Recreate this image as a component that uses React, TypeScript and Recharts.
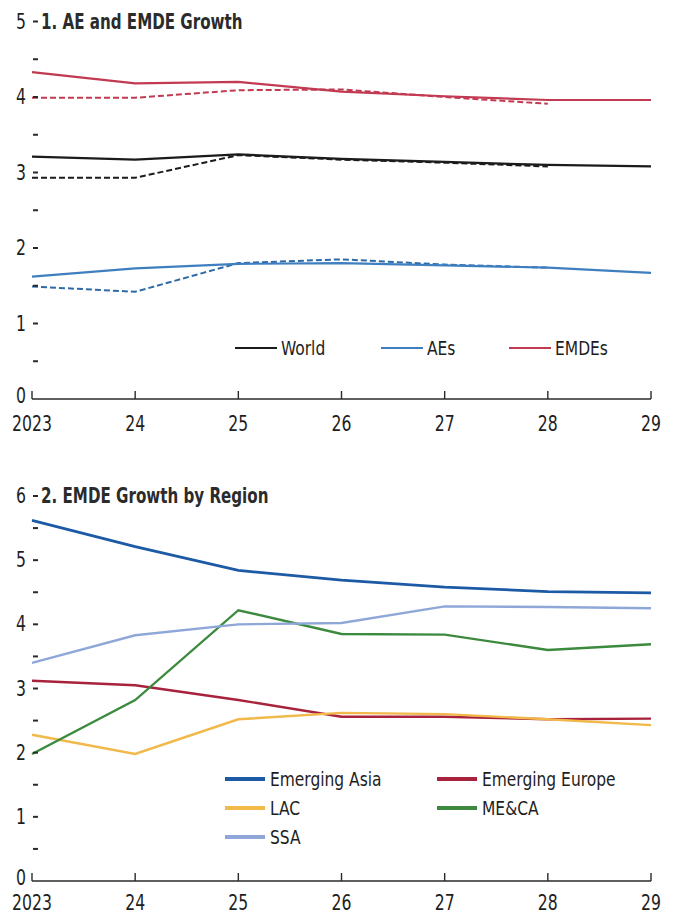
import React from 'react';
import { LineChart, Line, XAxis, YAxis, Legend } from 'recharts';

const FONT = "'Liberation Sans Narrow', 'Arial Narrow', 'DejaVu Sans Condensed', sans-serif";
const INK = '#2a2a2a';
const SX = 0.83; // horizontal squeeze to imitate a condensed face

// ---------- data ----------
const years = [2023, 2024, 2025, 2026, 2027, 2028, 2029];
const yearLabels = ['2023', '24', '25', '26', '27', '28', '29'];

// Panel 1: current (solid) and previous (dashed) forecasts
const worldCurrent = [3.21, 3.17, 3.24, 3.18, 3.14, 3.1, 3.08];
const worldPrevious = [2.93, 2.93, 3.23, 3.17, 3.13, 3.08, null];
const aesCurrent = [1.62, 1.73, 1.79, 1.8, 1.77, 1.74, 1.67];
const aesPrevious = [1.49, 1.42, 1.8, 1.85, 1.78, 1.74, null];
const emdesCurrent = [4.33, 4.18, 4.2, 4.07, 4.01, 3.96, 3.96];
const emdesPrevious = [3.99, 3.99, 4.09, 4.1, 4.0, 3.91, null];

// Panel 2: EMDE growth by region
const emergingAsia = [5.62, 5.21, 4.84, 4.69, 4.58, 4.51, 4.49];
const emergingEurope = [3.12, 3.05, 2.82, 2.56, 2.56, 2.52, 2.53];
const lac = [2.28, 1.98, 2.52, 2.62, 2.6, 2.52, 2.43];
const meca = [1.98, 2.82, 4.22, 3.85, 3.84, 3.6, 3.69];
const ssa = [3.4, 3.83, 4.0, 4.02, 4.28, 4.27, 4.25];

const topTicks = [0, 0.5, 1, 1.5, 2, 2.5, 3, 3.5, 4, 4.5, 5];
const bottomTicks = [0, 0.5, 1, 1.5, 2, 2.5, 3, 3.5, 4, 4.5, 5, 5.5, 6];

const topLegendOrder = ['World', 'AEs', 'EMDEs'];
const bottomLegendOrder = ['Emerging Asia', 'Emerging Europe', 'LAC', 'ME&CA', 'SSA'];

const topTitle = '1. AE and EMDE Growth';
const bottomTitle = '2. EMDE Growth by Region';

const topData = years.map((year, i) => ({
  year,
  worldCur: worldCurrent[i],
  worldPrev: worldPrevious[i],
  aesCur: aesCurrent[i],
  aesPrev: aesPrevious[i],
  emdesCur: emdesCurrent[i],
  emdesPrev: emdesPrevious[i],
}));

const bottomData = years.map((year, i) => ({
  year,
  asia: emergingAsia[i],
  europe: emergingEurope[i],
  lac: lac[i],
  meca: meca[i],
  ssa: ssa[i],
}));

const C_WORLD = '#1b1b1b';
const C_AES = '#3f7fc0';
const C_AES_PREV = '#2f6aa8';
const C_EMDES = '#c23a52';
const C_ASIA = '#1d5aa5';
const C_EUROPE = '#a8213d';
const C_LAC = '#f1b84a';
const C_MECA = '#3c8a3e';
const C_SSA = '#8fa7d8';

// ---------- ticks ----------
const CondText = ({ x, y, anchor, children }: any) => (
  <text
    transform={`translate(${x},${y}) scale(${SX},1)`}
    x={0}
    y={0}
    textAnchor={anchor}
    dominantBaseline="central"
    fontFamily={FONT}
    fontSize={21}
    fill="#1e1e1e"
  >
    {children}
  </text>
);

const XTick = (props: any) => {
  const { x, y, payload, labelOffset } = props;
  const i = years.indexOf(payload.value);
  return (
    <g>
      <line x1={x} x2={x} y1={y} y2={y - 8} stroke={INK} strokeWidth={1.4} />
      <CondText x={x} y={y + labelOffset} anchor="middle">
        {yearLabels[i]}
      </CondText>
    </g>
  );
};

const LeftTick = (props: any) => {
  const { x, y, payload } = props;
  const v = payload.value;
  const major = Number.isInteger(v);
  return (
    <g>
      {v !== 0 && <line x1={x + 1} x2={x + 6} y1={y} y2={y} stroke={INK} strokeWidth={2} />}
      {major && (
        <CondText x={x - 6} y={v === 0 ? y - 3 : y} anchor="end">
          {v}
        </CondText>
      )}
    </g>
  );
};

const RightTick = (props: any) => {
  const { x, y, payload } = props;
  if (payload.value === 0) return <g />;
  return <line x1={x - 9} x2={x - 1} y1={y} y2={y} stroke={INK} strokeWidth={2} />;
};

// ---------- legends ----------
const squeezed: React.CSSProperties = {
  display: 'inline-block',
  transform: 'scaleX(0.86)',
  transformOrigin: 'left center',
};

const ordered = (payload: any[], order: string[]) =>
  order
    .map((name) => (payload || []).find((p: any) => p.value === name))
    .filter(Boolean);

const TopLegend = (props: any) => {
  const items = ordered(props.payload, topLegendOrder);
  return (
    <div
      style={{
        display: 'grid',
        gridTemplateColumns: '146px 128px 120px',
        fontFamily: FONT,
        fontSize: 20,
        color: '#1e1e1e',
        whiteSpace: 'nowrap',
      }}
    >
      {items.map((p: any, i: number) => (
        <div key={i} style={{ display: 'flex', alignItems: 'center', height: 24 }}>
          <span style={{ display: 'inline-block', width: 42, height: 2, background: p.color, marginRight: 4 }} />
          <span style={squeezed}>{p.value}</span>
        </div>
      ))}
    </div>
  );
};

const BottomLegend = (props: any) => {
  const items = ordered(props.payload, bottomLegendOrder);
  return (
    <div
      style={{
        display: 'grid',
        gridTemplateColumns: '212px 200px',
        gridAutoRows: '29px',
        fontFamily: FONT,
        fontSize: 20,
        color: '#1e1e1e',
        whiteSpace: 'nowrap',
      }}
    >
      {items.map((p: any, i: number) => (
        <div key={i} style={{ display: 'flex', alignItems: 'center' }}>
          <span style={{ display: 'inline-block', width: 40, height: 4, background: p.color, marginRight: 5 }} />
          <span style={squeezed}>{p.value}</span>
        </div>
      ))}
    </div>
  );
};

const titleStyle = (top: number): React.CSSProperties => ({
  position: 'absolute',
  left: 41,
  top,
  height: 26,
  lineHeight: '26px',
  fontFamily: FONT,
  fontWeight: 'bold',
  fontSize: 21,
  color: '#2b2b2b',
  whiteSpace: 'nowrap',
  transform: 'scaleX(0.8)',
  transformOrigin: 'left center',
});

export default function App() {
  return (
    <div style={{ position: 'absolute', left: 0, top: 0, width: 674, height: 917, background: '#fff', overflow: 'hidden' }}>
      {/* Panel 1 */}
      <div style={{ position: 'absolute', left: 0, top: 0 }}>
        <LineChart width={674} height={440} data={topData} margin={{ top: 21.5, right: 22, left: 0, bottom: 0 }}>
          <XAxis
            dataKey="year"
            type="number"
            domain={[2023, 2029]}
            ticks={years}
            interval={0}
            height={41}
            tickSize={0}
            tickMargin={0}
            tickLine={false}
            axisLine={{ stroke: INK, strokeWidth: 1.6 }}
            tick={<XTick labelOffset={25} />}
          />
          <YAxis
            yAxisId="left"
            domain={[0, 5]}
            ticks={topTicks}
            interval={0}
            width={32}
            tickSize={0}
            tickMargin={0}
            tickLine={false}
            axisLine={false}
            tick={<LeftTick />}
          />
          <YAxis
            yAxisId="right"
            orientation="right"
            domain={[0, 5]}
            ticks={topTicks}
            interval={0}
            width={1}
            tickSize={0}
            tickMargin={0}
            tickLine={false}
            axisLine={false}
            tick={<RightTick />}
          />
          <Legend
            layout="horizontal"
            verticalAlign="middle"
            align="center"
            content={<TopLegend />}
            wrapperStyle={{ left: 235, top: 336, width: 420, height: 24 }}
          />
          <Line yAxisId="left" dataKey="worldPrev" name="World (previous)" legendType="none" stroke={C_WORLD} strokeWidth={2} strokeDasharray="6 3" dot={false} isAnimationActive={false} />
          <Line yAxisId="left" dataKey="aesPrev" name="AEs (previous)" legendType="none" stroke={C_AES_PREV} strokeWidth={2} strokeDasharray="6 3" dot={false} isAnimationActive={false} />
          <Line yAxisId="left" dataKey="emdesPrev" name="EMDEs (previous)" legendType="none" stroke={C_EMDES} strokeWidth={2} strokeDasharray="6 3" dot={false} isAnimationActive={false} />
          <Line yAxisId="left" dataKey="worldCur" name="World" stroke={C_WORLD} strokeWidth={2.2} dot={false} isAnimationActive={false} />
          <Line yAxisId="left" dataKey="aesCur" name="AEs" stroke={C_AES} strokeWidth={2.2} dot={false} isAnimationActive={false} />
          <Line yAxisId="left" dataKey="emdesCur" name="EMDEs" stroke={C_EMDES} strokeWidth={2.2} dot={false} isAnimationActive={false} />
        </LineChart>
      </div>
      <div style={titleStyle(9)}>{topTitle}</div>

      {/* Panel 2 */}
      <div style={{ position: 'absolute', left: 0, top: 470 }}>
        <LineChart width={674} height={452} data={bottomData} margin={{ top: 26, right: 22, left: 0, bottom: 0 }}>
          <XAxis
            dataKey="year"
            type="number"
            domain={[2023, 2029]}
            ticks={years}
            interval={0}
            height={41}
            tickSize={0}
            tickMargin={0}
            tickLine={false}
            axisLine={{ stroke: INK, strokeWidth: 1.6 }}
            tick={<XTick labelOffset={22} />}
          />
          <YAxis
            yAxisId="left"
            domain={[0, 6]}
            ticks={bottomTicks}
            interval={0}
            width={32}
            tickSize={0}
            tickMargin={0}
            tickLine={false}
            axisLine={false}
            tick={<LeftTick />}
          />
          <YAxis
            yAxisId="right"
            orientation="right"
            domain={[0, 6]}
            ticks={bottomTicks}
            interval={0}
            width={1}
            tickSize={0}
            tickMargin={0}
            tickLine={false}
            axisLine={false}
            tick={<RightTick />}
          />
          <Legend
            layout="horizontal"
            verticalAlign="middle"
            align="center"
            content={<BottomLegend />}
            wrapperStyle={{ left: 225, top: 294, width: 420, height: 90 }}
          />
          <Line yAxisId="left" dataKey="asia" name="Emerging Asia" stroke={C_ASIA} strokeWidth={2.8} dot={false} isAnimationActive={false} />
          <Line yAxisId="left" dataKey="europe" name="Emerging Europe" stroke={C_EUROPE} strokeWidth={2.4} dot={false} isAnimationActive={false} />
          <Line yAxisId="left" dataKey="lac" name="LAC" stroke={C_LAC} strokeWidth={2.4} dot={false} isAnimationActive={false} />
          <Line yAxisId="left" dataKey="meca" name="ME&CA" stroke={C_MECA} strokeWidth={2.4} dot={false} isAnimationActive={false} />
          <Line yAxisId="left" dataKey="ssa" name="SSA" stroke={C_SSA} strokeWidth={2.4} dot={false} isAnimationActive={false} />
        </LineChart>
      </div>
      <div style={titleStyle(483)}>{bottomTitle}</div>
    </div>
  );
}
